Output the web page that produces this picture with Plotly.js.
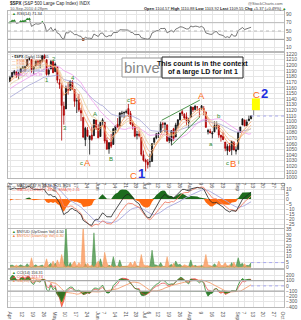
<!DOCTYPE html>
<html><head><meta charset="utf-8">
<script src="https://cdn.plot.ly/plotly-3.0.1.min.js"></script>
<style>html,body{margin:0;padding:0;background:#fff}#c{width:301px;height:320px}</style>
</head><body><div id="c"></div><script>
// ---- data: $SPX daily, Feb-Mar 2010 closes (indicator warm-up) ----
const histClose = [1089.19,1103.32,1097.28,1063.11,1066.19,1056.74,1070.52,1068.13,1078.47,1075.51,1094.87,1099.51,1106.75,1109.17,1108.01,1094.60,1105.24,1102.94,1104.49,
1115.71,1118.31,1118.79,1122.97,1138.70,1138.50,1140.45,1145.61,1150.24,1149.99,1150.51,1159.46,1166.21,1165.83,1159.90,1165.81,1174.17,1167.72,1165.73,1166.59,1173.22,1173.27,1169.43];
// ---- 1 Apr 2010 .. 10 Sep 2010, trading days ----
const open = [1171.2,1178.7,1186.0,1188.2,1181.8,1187.4,1194.9,1195.9,1198.7,1210.8,1210.2,1192.1,1199.0,1207.2,1203.0,1207.9,1217.1,1209.9,1184.6,1193.3,1206.8,
1188.6,1197.5,1169.2,1164.4,1127.0,1122.3,1156.4,1155.4,1170.0,1157.2,1136.5,1138.8,1119.6,1107.3,1067.3,1084.8,1067.4,1075.5,1074.3,1102.6,
1087.3,1073.0,1098.8,1098.4,1065.8,1050.8,1062.8,1058.8,1082.7,1095.0,1091.2,1114.0,1115.0,1116.2,1122.8,1113.9,1095.6,1090.9,1075.1,1077.5,1071.1,1040.6,
1031.1,1027.7,1028.1,1028.5,1062.9,1070.5,1077.2,1080.7,1095.6,1094.5,1093.9,1066.0,1064.5,1086.7,1072.1,1092.2,1102.9,1117.4,1112.8,1108.1,1098.4,
1107.5,1125.3,1121.1,1125.8,1122.1,1122.8,1122.9,1116.9,1081.5,1082.2,1077.5,1081.2,1092.1,1092.4,1075.6,1073.4,1063.2,1048.0,1056.3,1049.3,1062.9,1046.9,
1049.7,1080.7,1093.6,1102.6,1092.4,1101.2,1104.6];
const high = [1181.4,1187.7,1191.8,1189.6,1188.6,1194.7,1199.2,1199.0,1210.7,1213.9,1210.2,1197.9,1208.6,1210.0,1209.0,1217.3,1219.8,1211.4,1195.0,1209.4,1207.9,
1205.1,1197.5,1175.9,1167.6,1135.1,1163.8,1170.5,1172.9,1173.6,1157.2,1141.9,1148.7,1124.3,1107.3,1090.2,1089.9,1074.8,1090.8,1103.5,1102.6,
1094.8,1098.6,1105.7,1098.4,1071.4,1063.2,1077.7,1087.9,1092.0,1105.9,1115.6,1118.7,1117.7,1121.0,1131.2,1118.5,1099.6,1090.9,1083.1,1082.6,1071.1,1048.1,
1033.6,1032.9,1042.5,1060.9,1071.3,1078.2,1080.8,1099.5,1099.1,1098.7,1093.9,1074.7,1083.9,1088.5,1097.5,1103.7,1115.0,1120.9,1114.7,1115.9,1106.4,
1127.3,1125.4,1128.8,1126.6,1123.1,1129.2,1127.2,1116.9,1086.7,1086.8,1082.6,1100.1,1099.8,1092.4,1075.6,1081.6,1063.2,1059.4,1061.5,1065.2,1064.4,1055.1,
1081.3,1090.1,1105.1,1102.6,1103.3,1110.3,1110.9];
const low = [1170.7,1178.7,1182.8,1177.3,1175.1,1187.2,1194.7,1188.8,1198.7,1208.5,1186.8,1183.7,1199.0,1198.9,1194.7,1205.1,1211.1,1181.6,1181.8,1193.3,1186.3,
1188.6,1168.1,1158.2,1065.8,1094.2,1122.3,1147.7,1155.4,1156.1,1126.1,1114.9,1117.2,1100.7,1071.6,1055.9,1072.7,1040.8,1065.6,1074.3,1084.8,
1069.9,1072.2,1091.8,1060.5,1049.9,1042.2,1052.3,1058.8,1077.6,1089.0,1091.2,1107.1,1105.9,1113.9,1108.2,1094.2,1085.3,1071.6,1067.9,1071.5,1038.0,1028.3,
1010.9,1015.9,1018.4,1028.5,1058.2,1068.1,1070.4,1080.7,1087.7,1080.5,1063.3,1061.1,1056.9,1065.3,1072.1,1087.9,1101.8,1109.8,1103.1,1092.8,1088.0,
1107.5,1116.8,1119.5,1118.9,1107.5,1120.9,1111.0,1088.6,1076.7,1079.0,1069.6,1081.2,1085.8,1070.7,1063.9,1067.1,1046.7,1039.8,1045.4,1039.7,1048.8,1040.9,
1049.7,1080.4,1093.6,1091.2,1092.4,1101.2,1103.9];
const close = [1178.1,1187.4,1189.4,1182.5,1186.4,1194.4,1196.5,1197.3,1210.7,1211.7,1192.1,1197.5,1207.2,1205.9,1208.7,1217.3,1212.1,1183.7,1191.4,1206.8,1186.7,
1202.3,1173.6,1165.9,1128.2,1110.9,1159.7,1155.8,1171.7,1157.4,1135.7,1136.9,1120.8,1115.1,1071.6,1087.7,1073.7,1074.0,1068.0,1103.1,1089.4,
1070.7,1098.4,1102.8,1064.9,1050.5,1062.0,1055.7,1086.8,1091.6,1089.6,1115.2,1114.6,1116.0,1117.5,1113.2,1095.3,1092.0,1073.7,1076.8,1074.6,1041.2,1030.7,
1027.4,1022.6,1028.1,1060.3,1070.3,1078.0,1078.8,1095.3,1095.2,1096.5,1064.9,1071.3,1083.5,1069.6,1093.7,1102.7,1115.0,1113.8,1106.1,1101.5,1101.6,
1125.9,1120.5,1127.2,1125.8,1121.6,1127.8,1121.1,1089.5,1083.6,1079.3,1079.4,1092.5,1094.2,1075.6,1071.7,1067.4,1051.9,1055.3,1047.2,1064.6,1048.9,1049.3,
1080.3,1090.1,1104.5,1091.8,1098.9,1104.2,1109.6];
// NYSE up-volume / down-volume ratio (green) and down/up (orange)
const upRatio = [1.8,2.2,1.2,0.4,1.3,2.4,1.3,1.0,3.5,1.1,0.1,1.5,2.5,0.8,1.2,2.2,0.5,0.1,2.0,4.0,0.1,
4.0,0.1,0.4,0.1,0.3,40,0.6,4.5,0.2,0.1,1.2,0.2,0.5,0.0,3.5,0.2,1.0,0.4,32,0.2,
0.1,8,1.4,0.0,0.2,2.2,0.4,10,1.6,0.6,7,0.8,1.0,1.2,0.5,0.1,0.6,0.1,1.5,0.7,0.0,0.3,
0.6,0.5,1.5,16,2.5,2.2,1.1,4.5,0.9,1.0,0.0,1.6,3.0,0.2,6,2.2,3.0,0.8,0.3,0.5,1.0,
7,0.4,2.0,0.8,0.6,2.0,0.4,0.0,0.4,0.5,1.0,3.5,1.2,0.1,0.5,0.5,0.2,1.5,0.3,4.5,0.1,1.0,
9,2.5,4.0,0.2,2.0,1.6,4.5];
const downRatio = [0.5,0.4,0.8,2.2,0.7,0.4,0.7,0.9,0.3,0.9,9,0.6,0.4,1.2,0.8,0.4,1.8,8,0.5,0.3,6,
0.2,7,2.0,12,3.5,0.0,1.5,0.2,3.5,6,0.8,4.5,1.8,40,0.3,4.0,1.0,2.2,0.0,3.5,
6,0.1,0.7,14,4.5,0.4,2.0,0.1,0.6,1.4,0.1,1.1,0.9,0.8,1.8,5,1.5,6,0.6,1.3,12,2.8,
1.6,1.8,0.6,0.1,0.4,0.4,0.9,0.2,1.1,0.9,10,0.6,0.3,4.0,0.2,0.4,0.3,1.2,2.5,1.8,1.0,
0.1,2.2,0.5,1.2,1.6,0.5,2.2,12,2.2,1.8,1.0,0.3,0.8,6,1.8,1.8,4.5,0.6,2.5,0.2,5,1.0,
0.1,0.4,0.2,3.5,0.5,0.6,0.3];
// axis ticks (trading-day index)
const tickIdx  = [0,6,11,16,21,26,31,36,41,44,49,54,59,63,65,69,74,79,84,89,94,99,106,109,113,118,123,127];
const tickText = ["Apr","12","19","26","May","10","17","24","Jun","7","14","21","28","Jul","6","12","19","26","Aug","9","16","23","Sep","7","13","20","27","Oct"];
// analyst wave labels [index, price]
const waveTxt  = ["1","2","3","4","c","A","A","B","c","B","C","1","A","b","a","c","B","i","C","2"];
const waveX    = [17,20.3,25.6,29.2,33.4,35.8,39.5,47,55.2,57.2,57.3,61.3,89.1,97,93.3,101.2,103.6,106.2,114.7,118.2];
const waveY    = [1173,1212,1089,1178,1026,1027,1113,1033,1138,1138,1004,1007,1146,1110,1060,1025,1025,1027,1148,1149];
const waveCol  = ["g","g","g","g","g","o","g","g","g","o","o","b","o","g","g","g","o","g","o","b"];
const wedgeX = [70.5,88.2], wedgeUpY = [1102,1138], wedgeLoX = [75.2,88.2], wedgeLoY = [1058,1108];
const targetBoxX = [112.4,116.1], targetBoxY = [1120,1141];

// ---- indicators ----
const N = close.length, H = histClose.length;
const xs = close.map((_, i) => i);
const allC = histClose.concat(close);
function ema(a,n){const k=2/(n+1),o=[];let e=a[0];for(let i=0;i<a.length;i++){e=i?a[i]*k+e*(1-k):a[0];o.push(e);}return o;}
function sma(a,n){const o=[];let s=0;for(let i=0;i<a.length;i++){s+=a[i];if(i>=n)s-=a[i-n];o.push(i>=n-1?s/n:null);}return o;}
function rsi(a,n){const o=[null];let ag=0,al=0;for(let i=1;i<a.length;i++){const d=a[i]-a[i-1],g=Math.max(d,0),l=Math.max(-d,0);
  if(i<=n){ag+=g/n;al+=l/n;}else{ag=(ag*(n-1)+g)/n;al=(al*(n-1)+l)/n;} o.push(i<n?null:100-100/(1+ag/(al||1e-9)));}return o;}
function cci(tp,n){const o=[];for(let i=0;i<tp.length;i++){if(i<n-1){o.push(null);continue;}let s=0;for(let j=i-n+1;j<=i;j++)s+=tp[j];const m=s/n;let md=0;for(let j=i-n+1;j<=i;j++)md+=Math.abs(tp[j]-m);md/=n;o.push((tp[i]-m)/(0.015*md));}return o;}
const cut = a => a.slice(H);
const ma5 = cut(ema(allC,5)), ma8 = cut(ema(allC,8)), ma13 = cut(ema(allC,13)), ma21 = cut(sma(allC,21)), ma34 = cut(ema(allC,34));
const rs = cut(rsi(allC,14));
const e12=ema(allC,12), e26=ema(allC,26), e8=ema(allC,8), e17=ema(allC,17);
const macdA = allC.map((_,i)=>e8[i]-e17[i]);
const macdB = allC.map((_,i)=>e12[i]-e26[i]);
const sigA = ema(macdA,9);
const histA = cut(macdA.map((v,i)=>v-sigA[i]));
const lineBlack = cut(macdA), lineSalmon = cut(macdB), lineLav = cut(ema(macdB,9));
const tp = histClose.concat(close.map((c,i)=>(high[i]+low[i]+c)/3));
const cciF = cut(cci(tp,14)), cciS = cut(cci(tp,20)), cciSm = sma(cut(cci(tp,20)).map(v=>v??0),10);

const traces = [];
// RSI panel (x5/y5)
traces.push({x:xs,y:rs,xaxis:'x5',yaxis:'y5',type:'scatter',mode:'lines',line:{color:'#555',width:0.8},hoverinfo:'skip'});
traces.push({x:xs.filter(i=>rs[i]>=70),y:rs.filter(v=>v>=70),xaxis:'x5',yaxis:'y5',mode:'markers',marker:{color:'#2a8a2a',size:3,symbol:'triangle-up'}});
traces.push({x:xs.filter(i=>rs[i]<=30),y:rs.filter(v=>v!==null&&v<=30),xaxis:'x5',yaxis:'y5',mode:'markers',marker:{color:'#a0522d',size:3}});
// Main panel (x4/y4)
const maDefs=[[ma34,'#a6a6d8'],[ma21,'#ee9cee'],[ma13,'#e8cf9a'],[ma8,'#f6b48a'],[ma5,'#f59a5a']];
maDefs.forEach(([d,c])=>traces.push({x:xs,y:d,xaxis:'x4',yaxis:'y4',mode:'lines',line:{color:c,width:0.8},hoverinfo:'skip'}));
traces.push({type:'candlestick',x:xs,open:open,high:high,low:low,close:close,xaxis:'x4',yaxis:'y4',whiskerwidth:0,
  increasing:{line:{color:'#111',width:0.8},fillcolor:'#111'},decreasing:{line:{color:'#b00000',width:0.8},fillcolor:'#b00000'},hoverinfo:'skip'});
traces.push({x:[N-1,127.3],y:[close[N-1],close[N-1]],xaxis:'x4',yaxis:'y4',mode:'lines',line:{color:'#aaaaee',width:1,dash:'dot'}});
traces.push({x:wedgeX,y:wedgeUpY,xaxis:'x4',yaxis:'y4',mode:'lines',line:{color:'#3a8a3a',width:0.9}});
traces.push({x:wedgeLoX,y:wedgeLoY,xaxis:'x4',yaxis:'y4',mode:'lines',line:{color:'#3a8a3a',width:0.9}});
// MACD panel (x3/y3)
traces.push({x:xs,y:histA.map(v=>Math.max(v,0)),xaxis:'x3',yaxis:'y3',mode:'lines',fill:'tozeroy',fillcolor:'#1d6b1d',line:{width:0,color:'#1d6b1d'}});
traces.push({x:xs,y:histA.map(v=>Math.min(v,0)),xaxis:'x3',yaxis:'y3',mode:'lines',fill:'tozeroy',fillcolor:'#ff6a10',line:{width:0,color:'#ff6a10'}});
traces.push({x:xs,y:lineLav,xaxis:'x3',yaxis:'y3',mode:'lines',line:{color:'#a8a8e0',width:0.9}});
traces.push({x:xs,y:lineSalmon,xaxis:'x3',yaxis:'y3',mode:'lines',line:{color:'#f0806a',width:0.9}});
traces.push({x:xs,y:lineBlack,xaxis:'x3',yaxis:'y3',mode:'lines',line:{color:'#222',width:0.8}});
// spike panel (x2/y2)
traces.push({x:xs,y:upRatio,xaxis:'x2',yaxis:'y2',mode:'lines',fill:'tozeroy',fillcolor:'rgba(60,140,60,0.75)',line:{width:0.5,color:'#3c8c3c'}});
traces.push({x:xs,y:downRatio,xaxis:'x2',yaxis:'y2',mode:'lines',fill:'tozeroy',fillcolor:'rgba(250,150,90,0.8)',line:{width:0.5,color:'#f59a5a'}});
traces.push({x:[N-1,127.3],y:[upRatio[N-1],upRatio[N-1]],xaxis:'x2',yaxis:'y2',mode:'lines',line:{color:'#aaaaee',width:1,dash:'dot'}});
// CCI panel (x/y)
const hundred = xs.map(()=>100), mhundred = xs.map(()=>-100);
function band(d,col,thr,above){traces.push({x:xs,y:thr,mode:'lines',line:{width:0},xaxis:'x',yaxis:'y',hoverinfo:'skip'});
  traces.push({x:xs,y:d.map(v=>v===null?thr[0]:(above?Math.max(v,thr[0]):Math.min(v,thr[0]))),mode:'lines',fill:'tonexty',fillcolor:col,line:{width:0},xaxis:'x',yaxis:'y',hoverinfo:'skip'});}
band(cciS,'rgba(250,120,40,0.85)',mhundred,false);
band(cciF,'rgba(30,110,30,0.9)',mhundred,false);
band(cciS,'rgba(230,60,50,0.85)',hundred,true);
band(cciF,'rgba(40,140,40,0.9)',hundred,true);
traces.push({x:xs,y:cciSm,xaxis:'x',yaxis:'y',mode:'lines',line:{color:'#f5a070',width:0.9}});
traces.push({x:xs,y:cciS,xaxis:'x',yaxis:'y',mode:'lines',line:{color:'#e84040',width:0.7}});
traces.push({x:xs,y:cciF,xaxis:'x',yaxis:'y',mode:'lines',line:{color:'#2d8a2d',width:0.8}});
traces.push({x:[N-1,127.3],y:[0,0],xaxis:'x',yaxis:'y',mode:'lines',line:{color:'#aaaaee',width:1,dash:'dot'}});

const grid='#e6e6e6', tf={size:5,color:'#555',family:'Arial, Liberation Sans, sans-serif'};
function xa(anchor,labels){return {domain:[0,1],anchor:anchor,range:[-0.93,127.3],tickvals:tickIdx,ticktext:tickText,showticklabels:labels,
  tickfont:tf,ticks:'',gridcolor:grid,gridwidth:1,showline:true,mirror:true,linecolor:'#b8b8b8',linewidth:1,zeroline:false,matches:anchor==='y'?undefined:'x',fixedrange:true};}
function ya(dom,range,dtick,extra){return Object.assign({domain:dom,range:range,dtick:dtick,side:'right',tickfont:tf,ticks:'',gridcolor:grid,showline:true,mirror:true,linecolor:'#b8b8b8',zeroline:false,fixedrange:true},extra||{});}
const P = px => 1 - px/320;
const layout = {
  width:301,height:320,margin:{l:8,r:17,t:0,b:0},paper_bgcolor:'#fff',plot_bgcolor:'#fff',showlegend:false,
  font:{family:'Arial, Liberation Sans, sans-serif'},
  xaxis:xa('y',true), xaxis2:xa('y2',false), xaxis3:xa('y3',false), xaxis4:Object.assign(xa('y4',true),{rangeslider:{visible:false}}), xaxis5:xa('y5',false),
  yaxis:ya([P(307),P(270)],[-400,300],100,{tickvals:[-400,-300,-200,-100,0,100,200]}),
  yaxis2:ya([P(268),P(229)],[-0.5,35.5],5),
  yaxis3:ya([P(228),P(184)],[-29,15],5,{tickvals:[-25,-20,-15,-10,-5,0,5,10]}),
  yaxis4:ya([P(178),P(53)],[999,1222],10),
  yaxis5:ya([P(51),P(11)],[2,98],10,{tickvals:[10,30,50,70,90]}),
  yaxis6:{overlaying:'y2',side:'left',range:[-0.5,35.5],tickvals:[0,5,10,15,20,25],tickfont:tf,ticks:'',showgrid:false,zeroline:false,fixedrange:true},
  shapes:[
    {type:'line',xref:'x5',yref:'y5',x0:-0.93,x1:127.3,y0:70,y1:70,line:{color:'#bbb',width:1}},
    {type:'line',xref:'x5',yref:'y5',x0:-0.93,x1:127.3,y0:30,y1:30,line:{color:'#999',width:1}},
    {type:'line',xref:'x5',yref:'y5',x0:-0.93,x1:127.3,y0:50,y1:50,line:{color:'#bbb',width:1,dash:'dot'}},
    {type:'line',xref:'x',yref:'y',x0:-0.93,x1:127.3,y0:100,y1:100,line:{color:'#aaa',width:1.2}},
    {type:'line',xref:'x',yref:'y',x0:-0.93,x1:127.3,y0:-100,y1:-100,line:{color:'#aaa',width:1.2}},
    {type:'rect',xref:'x4',yref:'y4',x0:targetBoxX[0],x1:targetBoxX[1],y0:targetBoxY[0],y1:targetBoxY[1],fillcolor:'#ffff00',line:{width:0}},
    {type:'line',xref:'x4',yref:'y4',x0:113.2,x1:113.2,y0:targetBoxY[0],y1:1111,line:{color:'#888',width:1}},
    {type:'rect',xref:'paper',yref:'paper',x0:(122-8)/276,x1:(161-8)/276,y0:P(77),y1:P(58),line:{color:'#999',width:1},fillcolor:'#fff'},
    {type:'rect',xref:'paper',yref:'paper',x0:(162-8)/276,x1:(243-8)/276,y0:P(78),y1:P(57),line:{color:'#222',width:1},fillcolor:'#fff'}
  ],
  annotations:[]
};
const A = layout.annotations;
function txt(x,y,t,o){A.push(Object.assign({xref:'paper',yref:'paper',x:(x-8)/276,y:P(y),text:t,showarrow:false,xanchor:'left',yanchor:'middle',font:{size:4.5,color:'#333'}},o||{}));}
txt(8,3,'<b>$SPX</b> (S&P 500 Large Cap Index) INDX',{font:{size:4.5,color:'#222'}});
txt(8,8,'10-Sep-2010 4:28pm',{font:{size:4,color:'#555'}});
txt(285,3,'@StockCharts.com',{xanchor:'right',font:{size:4,color:'#555'}});
txt(288,8,'<b>Open</b> 1104.57 <b>High</b> 1110.88 <b>Low</b> 1103.92 <b>Last</b> 1109.55 <b>Chg</b> +5.37 (+0.49%) <span style="color:#2a8a2a">▲</span>',{xanchor:'right',font:{size:4,color:'#222'}});
txt(10,13,'<span style="color:#2a8a2a">▲</span> RSI(14) 71.34',{font:{size:4,color:'#333'}});
txt(10,57,'<b>▪ $SPX</b> (Daily) 1109.55',{font:{size:3.6,color:'#222'}});
txt(10,60.5,'— EMA(5) 1103.41',{font:{size:3.6,color:'#f08040'}});
txt(10,64,'— EMA(8) 1099.86',{font:{size:3.6,color:'#f0a070'}});
txt(10,67.5,'— EMA(13) 1092.75',{font:{size:3.6,color:'#d8b070'}});
txt(10,71,'— EMA(34) 1088.02',{font:{size:3.6,color:'#8888c8'}});
txt(10,74.5,'— MA(21) 1075.39',{font:{size:3.6,color:'#e070e0'}});
txt(10,186,'— MACD(8,17,9) 13.44, 7.21, 6.23',{font:{size:3.8,color:'#333'}});
txt(10,189.5,'— MACD(12,26,9) 7.43  — EMA(9) 2.31',{font:{size:3.8,color:'#f06050'}});
txt(10,232,'<span style="color:#2a8a2a">▲</span> $NYUD (Up/Down Vol) 4.50',{font:{size:3.8,color:'#333'}});
txt(10,236,'<span style="color:#f08040">▲</span> $NYDU (Down/Up Vol) 0.30',{font:{size:3.8,color:'#f08040'}});
txt(10,273,'<span style="color:#2a8a2a">▲</span> CCI(14) 156.31',{font:{size:3.8,color:'#333'}});
txt(10,277,'<span style="color:#e84040">▲</span> CCI(20) 121.74',{font:{size:3.8,color:'#e84040'}});
txt(10,281,'<span style="color:#f5a070">▲</span> MA(10) 64.20',{font:{size:3.8,color:'#f5a070'}});
txt(141.5,67.5,'binve',{xanchor:'center',font:{size:15,color:'#888',family:'Arial, Liberation Sans, sans-serif'}});
txt(202.5,63,'<b>This count is in the context</b>',{xanchor:'center',font:{size:7,color:'#111'}});
txt(202.5,72,'<b>of a large LD for Int 1</b>',{xanchor:'center',font:{size:7,color:'#111'}});
const colMap={g:['#2e8b2e',6],o:['#ff6a10',9.5],b:['#1f2fe0',13]};
waveTxt.forEach((t,i)=>{const [c,s]=colMap[waveCol[i]];A.push({xref:'x4',yref:'y4',x:waveX[i],y:waveY[i],text:waveCol[i]==='b'?'<b>'+t+'</b>':t,showarrow:false,font:{size:s,color:c,family:'Arial, Liberation Sans, sans-serif'}});});
Plotly.newPlot('c',traces,layout,{staticPlot:true,displayModeBar:false});
</script></body></html>
